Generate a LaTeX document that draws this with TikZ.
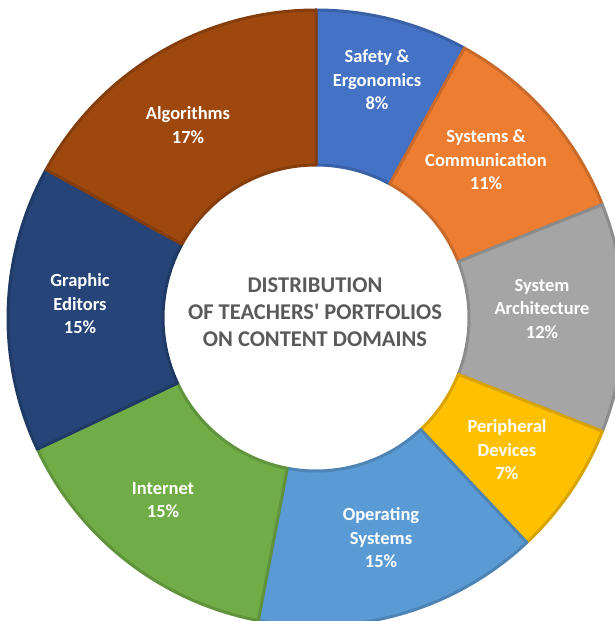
\documentclass[tikz,border=0pt]{standalone}
\usepackage{fontspec}
\setmainfont{Carlito}
\definecolor{safety}{HTML}{4472C4}
\definecolor{syscomm}{HTML}{ED7D31}
\definecolor{sysarch}{HTML}{A5A5A5}
\definecolor{periph}{HTML}{FFC000}
\definecolor{opsys}{HTML}{5B9BD5}
\definecolor{internet}{HTML}{70AD47}
\definecolor{graphic}{HTML}{264478}
\definecolor{algo}{HTML}{9E480E}
\definecolor{centertext}{HTML}{595959}
\newcommand{\DonutSlice}[3]{\filldraw[fill=#1,draw=#1!85!black,line width=3pt,line join=round] ([shift={(#2:153)}]C) -- ([shift={(#2:308)}]C) arc[start angle=#2,end angle=#3,radius=308] -- ([shift={(#3:153)}]C) arc[start angle=#3,end angle=#2,radius=153] -- cycle;}
\begin{document}
\begin{tikzpicture}[x=1pt,y=1pt,
  lbl/.style={text=white,align=center,font=\bfseries\fontsize{18.5}{23.5}\selectfont},
  title/.style={text=centertext,align=center,font=\bfseries\fontsize{22.5}{27}\selectfont}]
				\useasboundingbox (0,0) rectangle (615,621);
				\clip (0,0) rectangle (615,621);
				\coordinate (C) at (316,303);
				\DonutSlice{safety}{61.2}{90}
				\DonutSlice{syscomm}{21.6}{61.2}
				\DonutSlice{sysarch}{-21.6}{21.6}
				\DonutSlice{periph}{-46.8}{-21.6}
				\DonutSlice{opsys}{-100.8}{-46.8}
				\DonutSlice{internet}{-154.8}{-100.8}
				\DonutSlice{graphic}{151.2}{205.2}
				\DonutSlice{algo}{90}{151.2}
				\node[lbl] (Safety) at (377,541) {Safety \&\\Ergonomics\\8\%};
				\node[lbl] (SysComm) at (486,461) {Systems \&\\Communication\\11\%};
				\node[lbl] (SysArch) at (542,312) {System\\Architecture\\12\%};
				\node[lbl] (Periph) at (507,171) {Peripheral\\Devices\\7\%};
				\node[lbl] (OpSys) at (381,83) {Operating\\Systems\\15\%};
				\node[lbl] (Internet) at (163,121) {Internet\\15\%};
				\node[lbl] (Graphic) at (80,317) {Graphic\\Editors\\15\%};
				\node[lbl] (Algo) at (188,496) {Algorithms\\17\%};
				\node[title] (Title) at (315,309) {DISTRIBUTION\\OF TEACHERS\textquotesingle{} PORTFOLIOS\\ON CONTENT DOMAINS};
			\end{tikzpicture}
\end{document}
